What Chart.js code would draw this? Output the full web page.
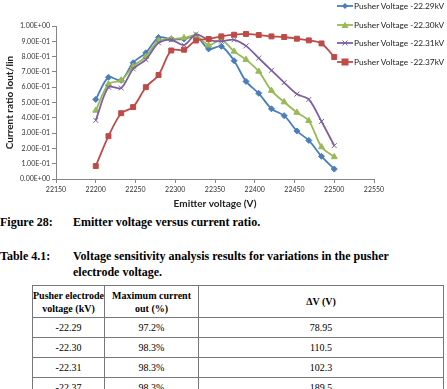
<!DOCTYPE html>
<html><head><meta charset="utf-8">
<script src="https://cdn.jsdelivr.net/npm/chart.js@4.4.1/dist/chart.umd.min.js"></script>
<style>
html,body{margin:0;padding:0;background:#fff;width:447px;height:389px;overflow:hidden;}
#c{position:absolute;left:0;top:0;}
#legend{position:absolute;left:337px;top:0;font-family:Lato,'Liberation Sans',sans-serif;font-size:8.3px;color:#222;}
.li{position:absolute;left:0;height:12px;white-space:nowrap;display:flex;align-items:center;}
.li svg{margin-right:1px;}
.cap{position:absolute;left:0;font-family:'Liberation Serif','Times New Roman',serif;font-weight:bold;font-size:12px;line-height:16px;color:#000;white-space:nowrap;}
.cap span{position:absolute;left:73px;}
table{position:absolute;left:32px;top:285px;border-collapse:collapse;table-layout:fixed;font-family:'Liberation Serif','Times New Roman',serif;font-size:10px;color:#000;}
td,th{border:1px solid #777;text-align:center;padding:0;line-height:13px;white-space:nowrap;overflow:visible;}
th{height:31px;font-weight:bold;vertical-align:middle;}
td{height:19px;}
</style></head>
<body>
<canvas id="c" width="447" height="210"></canvas>
<div id="legend"></div>
<div class="cap" style="top:214px;">Figure 28:<span>Emitter voltage versus current ratio.</span></div>
<div class="cap" style="top:248px;">Table 4.1:<span>Voltage sensitivity analysis results for variations in the pusher<br>electrode voltage.</span></div>
<table>
<colgroup><col style="width:66px"><col style="width:94px"><col style="width:245px"></colgroup>
<tr><th>Pusher electrode<br>voltage (kV)</th><th>Maximum current<br>out (%)</th><th>ΔV (V)</th></tr>
<tr><td>-22.29</td><td>97.2%</td><td>78.95</td></tr>
<tr><td>-22.30</td><td>98.3%</td><td>110.5</td></tr>
<tr><td>-22.31</td><td>98.3%</td><td>102.3</td></tr>
<tr><td>-22.37</td><td>98.3%</td><td>189.5</td></tr>
</table>
<script>
const voltages = [22200, 22216, 22232, 22247, 22263, 22279, 22295, 22311, 22326, 22342, 22358, 22374, 22389, 22405, 22421, 22437, 22453, 22468, 22484, 22500];
const pusher2229 = [0.52, 0.665, 0.645, 0.76, 0.825, 0.925, 0.915, 0.915, 0.935, 0.85, 0.867, 0.773, 0.638, 0.56, 0.459, 0.414, 0.314, 0.252, 0.148, 0.065];
const pusher2230 = [0.448, 0.62, 0.645, 0.735, 0.80, 0.905, 0.915, 0.922, 0.937, 0.875, 0.91, 0.834, 0.78, 0.703, 0.578, 0.503, 0.435, 0.381, 0.209, 0.144];
const pusher2231 = [0.383, 0.60, 0.595, 0.72, 0.78, 0.89, 0.91, 0.875, 0.945, 0.91, 0.90, 0.91, 0.87, 0.79, 0.71, 0.63, 0.555, 0.52, 0.376, 0.218];
const pusher2237 = [0.085, 0.28, 0.43, 0.47, 0.60, 0.68, 0.84, 0.845, 0.905, 0.915, 0.932, 0.943, 0.948, 0.941, 0.932, 0.928, 0.917, 0.906, 0.886, 0.797];
const seriesNames = ['Pusher Voltage -22.29kV', 'Pusher Voltage -22.30kV', 'Pusher Voltage -22.31kV', 'Pusher Voltage -22.37kV'];
const xTicks = [22150, 22200, 22250, 22300, 22350, 22400, 22450, 22500, 22550];
const yTicks = [0, 0.1, 0.2, 0.3, 0.4, 0.5, 0.6, 0.7, 0.8, 0.9, 1.0];

const colors = ['#4A7EBB', '#98B954', '#7D60A0', '#BE4B48'];
const styles = ['rectRot', 'triangle', 'crossRot', 'rect'];
const radii = [3, 3.5, 3.5, 3.5];
const allSeries = [pusher2229, pusher2230, pusher2231, pusher2237];
const FONT = 'Lato, "Liberation Sans", sans-serif';

function sci(v) {
  if (Math.abs(v) < 1e-12) return '0.00E+00';
  let e = Math.floor(Math.log10(Math.abs(v)) + 1e-9);
  let m = v / Math.pow(10, e);
  let ms = m.toFixed(2);
  if (ms === '10.00') { ms = '1.00'; e += 1; }
  const sign = e < 0 ? '-' : '+';
  const ea = Math.abs(e);
  return ms + 'E' + sign + (ea < 10 ? '0' + ea : String(ea));
}

const datasets = allSeries.map((vals, i) => ({
  label: seriesNames[i],
  data: voltages.map((x, j) => ({x: x, y: vals[j]})),
  showLine: true,
  borderColor: colors[i],
  backgroundColor: colors[i],
  pointBackgroundColor: colors[i],
  pointBorderColor: colors[i],
  pointStyle: styles[i],
  pointRadius: radii[i],
  pointBorderWidth: 1,
  borderWidth: 1.8,
  tension: 0.3,
  order: 4 - i
}));

new Chart(document.getElementById('c'), {
  type: 'scatter',
  data: {datasets},
  options: {
    responsive: false,
    animation: false,
    devicePixelRatio: 1,
    layout: {padding: {left: 4, top: 26, right: 73, bottom: 0}},
    plugins: {legend: {display: false}, tooltip: {enabled: false}},
    scales: {
      x: {
        type: 'linear', min: xTicks[0], max: xTicks[xTicks.length - 1],
        afterBuildTicks: s => { s.ticks = xTicks.map(v => ({value: v})); },
        ticks: {font: {size: 7, family: FONT}, color: '#333', padding: 3, maxRotation: 0, autoSkip: false, callback: v => String(v)},
        grid: {display: true, drawOnChartArea: false, drawTicks: true, tickLength: 4, color: '#868686'},
        border: {display: true, color: '#868686'},
        title: {display: true, text: 'Emitter voltage (V)', font: {size: 10, weight: 'bold', family: FONT}, color: '#222', padding: 0},
        afterFit: s => { s.height = 31; }
      },
      y: {
        min: 0, max: 1,
        afterBuildTicks: s => { s.ticks = yTicks.map(v => ({value: v})); },
        ticks: {font: {size: 7, family: FONT}, color: '#333', padding: 2, autoSkip: false, callback: v => sci(v)},
        grid: {display: true, drawOnChartArea: false, drawTicks: true, tickLength: 4, color: '#868686'},
        border: {display: true, color: '#868686'},
        title: {display: true, text: 'Current ratio Iout/Iin', font: {size: 10, weight: 'bold', family: FONT}, color: '#222', padding: 0},
        afterFit: s => { s.width = 52; }
      }
    }
  }
});

// HTML legend
const markerSvg = [
  c => `<polygon points="8,1 11,4 8,7 5,4" fill="${c}"/>`,
  c => `<polygon points="8,0.5 11.5,7 4.5,7" fill="${c}"/>`,
  c => `<path d="M5.5,1.5 L10.5,6.5 M10.5,1.5 L5.5,6.5" stroke="${c}" stroke-width="1"/>`,
  c => `<rect x="4.5" y="0.5" width="7" height="7" fill="${c}"/>`
];
const legendTops = [0, 18.5, 37, 55.5];
const lg = document.getElementById('legend');
seriesNames.forEach((n, i) => {
  const d = document.createElement('div');
  d.className = 'li';
  d.style.top = legendTops[i] + 'px';
  d.innerHTML = `<svg width="16" height="8" viewBox="0 0 16 8"><line x1="0" y1="4" x2="16" y2="4" stroke="${colors[i]}" stroke-width="1.8"/>${markerSvg[i](colors[i])}</svg>`;
  const t = document.createElement('span');
  t.textContent = n;
  d.appendChild(t);
  lg.appendChild(d);
});
</script>
</body></html>
